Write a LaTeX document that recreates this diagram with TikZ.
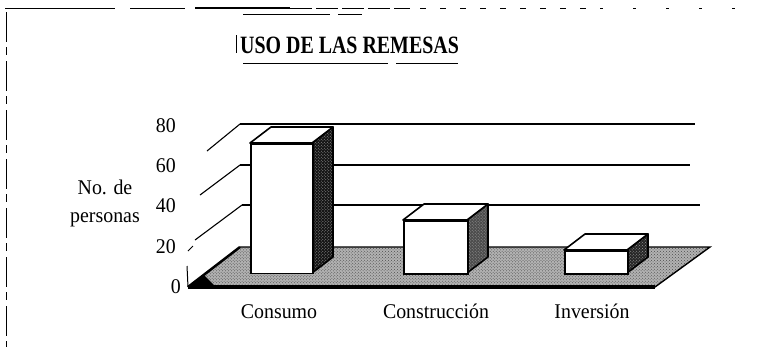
\documentclass[tikz,border=0pt]{standalone}
\usepackage{fontspec}
\setmainfont{Liberation Serif}
\newfontfamily\lblfont[FakeStretch=0.95]{Liberation Serif}
\newfontfamily\ttlfont[FakeStretch=0.8]{Liberation Serif}
\usetikzlibrary{patterns}
\begin{document}
\begin{tikzpicture}[x=1bp,y=-1bp,
  lbl/.style={inner sep=0pt, font=\lblfont\fontsize{21}{23}\selectfont},
  ttl/.style={inner sep=0pt, font=\ttlfont\fontsize{25}{27}\selectfont\bfseries},
  grid/.style={line width=1.1bp},
  edge/.style={line width=1.6bp, line join=round},
  border/.style={line width=1bp}]
\useasboundingbox (0,0) rectangle (757,347);
% frame
\draw[border] (5,8) -- (115,8);
\draw[border] (130,8) -- (185,8);
\draw[line width=1.4bp] (195,8) -- (290,8);
\draw[border, dash pattern=on 22bp off 4bp] (290,8) -- (410,8);
\draw[border, dash pattern=on 6bp off 14bp] (420,8) -- (600,8);
\draw[border, dash pattern=on 3bp off 30bp] (600,8) -- (752,8);
\draw[border] (243,14) -- (330,14);
\draw[border] (338,14) -- (362,14);
\draw[border, dash pattern=on 30bp off 5bp on 8bp off 6bp] (6,12) -- (6,347);
% title
\draw[line width=1bp] (236,35) -- (236,53);
\node[ttl, anchor=base west] (title) at (240,53) {USO DE LAS REMESAS};
\draw[border] (243,63) -- (388,63);
\draw[border] (396,63) -- (458,63);
% back wall gridlines
\coordinate (g80a) at (240,124); \coordinate (g80b) at (695,124);
\coordinate (g60a) at (240,165); \coordinate (g60b) at (690,165);
\coordinate (g40a) at (242,205); \coordinate (g40b) at (700,205);
\draw[grid] (g80a) -- (g80b);
\draw[grid] (g60a) -- (g60b);
\draw[grid] (g40a) -- (g40b);
% side wall diagonals
\coordinate (s80) at (207,151);
\coordinate (s60) at (200,195);
\coordinate (s40) at (195,240);
\draw[grid] (s80) -- (g80a);
\draw[grid] (s60) -- (g60a);
\draw[grid] (s40) -- (g40a);
\coordinate (s20a) at (188,251); \coordinate (s20b) at (193,246);
\draw[line width=0.8bp] (s20a) -- (s20b);
% floor
\coordinate (FL) at (188,287); \coordinate (FR) at (655,287);
\coordinate (BR) at (710,247); \coordinate (BL) at (240,247);
\fill[black!30] (FL) -- (FR) -- (BR) -- (BL) -- cycle;
\fill[pattern=crosshatch dots, pattern color=black!70] (FL) -- (FR) -- (BR) -- (BL) -- cycle;
\fill[black] (FL) -- (204,275) -- (216,287) -- cycle;
\draw[line width=1.4bp] (FR) -- (BR) -- (BL);
\draw[line width=3.5bp] (FL) -- (FR);
\draw[line width=2.5bp] (FL) -- (BL);
% left axis stub
\coordinate (ax0) at (187,266);
\draw[line width=1bp] (ax0) -- (FL);
% bars
\newcommand{\mybar}[5]{% x1, x2, top, depth-color, name
  \fill[#4] (#2,#3) -- (#2+21,#3-16) -- (#2+21,257) -- (#2,273) -- cycle;
  \fill[pattern=crosshatch dots, pattern color=black!40] (#2,#3) -- (#2+21,#3-16) -- (#2+21,257) -- (#2,273) -- cycle;
  \draw[edge] (#2,#3) -- (#2+21,#3-16) -- (#2+21,257) -- (#2,273);
  \draw[edge, fill=white] (#1,#3) -- (#1+21,#3-16) -- (#2+21,#3-16) -- (#2,#3) -- cycle;
  \node[draw, line width=1.8bp, fill=white, inner sep=0pt, minimum width=#2-#1, minimum height=273-#3, anchor=north west] (#5) at (#1,#3) {};
}
\mybar{250}{312}{143}{black!92}{bar1}
\mybar{403}{467}{220}{black!70}{bar2}
\mybar{564}{627}{250}{black!85}{bar3}
% tick labels
\node[lbl, anchor=base east] (t80) at (176,132) {80};
\node[lbl, anchor=base east] (t60) at (176,172) {60};
\node[lbl, anchor=base east] (t40) at (176,212) {40};
\node[lbl, anchor=base east] (t20) at (176,253) {20};
\node[lbl, anchor=base east] (t0) at (181,293) {0};
% axis title
\node[lbl, anchor=base] (yt1) at (105,194) {No. de};
\node[lbl, anchor=base] (yt2) at (105,222) {personas};
% category labels
\node[lbl, anchor=base] (c1) at (279,318) {Consumo};
\node[lbl, anchor=base] (c2) at (436,318) {Construcción};
\node[lbl, anchor=base] (c3) at (592,318) {Inversión};
\end{tikzpicture}
\end{document}
